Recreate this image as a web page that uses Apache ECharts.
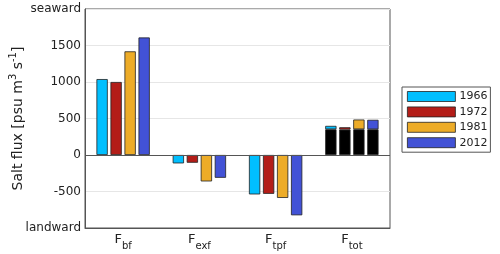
<!DOCTYPE html>
<html><head><meta charset="utf-8">
<script src="https://cdn.jsdelivr.net/npm/echarts@6/dist/echarts.min.js"></script>
<style>html,body{margin:0;padding:0;background:#fff}#c{width:500px;height:254px}</style>
</head><body><div id="c"></div>
<script>
var categories = ['bf', 'exf', 'tpf', 'tot'];
var years = ['1966', '1972', '1981', '2012'];
var colors = ['#00bfff', '#b31d18', '#edac28', '#4252d6'];
// flux values per year for Fbf, Fexf, Ftpf, Ftot
var v1966 = [1040, -115, -540, 399];
var v1972 = [1000, -106, -532, 380];
var v1981 = [1420, -362, -588, 486];
var v2012 = [1610, -312, -826, 482];
// black (base) portion of Ftot per year
var totBase = [352, 348, 352, 352];
var yTickLabels = {'-1000': 'landward', '2000': 'seaward'};

var values = [v1966, v1972, v1981, v2012];
var FONT = 'DejaVu Sans';
var series = [];
years.forEach(function (y, i) {
  var base = categories.map(function (c, j) { return j === 3 ? totBase[i] : null; });
  var top = values[i].map(function (v, j) { return j === 3 ? v - totBase[i] : v; });
  series.push({
    name: 'base' + y, type: 'bar', stack: 's' + i, data: base, barWidth: 11.3, barGap: '24%',
    itemStyle: {color: '#000', borderColor: '#222', borderWidth: 0.8}, silent: true
  });
  series.push({
    name: y, type: 'bar', stack: 's' + i, data: top, barWidth: 11.3, barGap: '24%',
    itemStyle: {color: colors[i], borderColor: '#222', borderWidth: 0.8}
  });
});
series[0].markLine = {
  silent: true, symbol: 'none', label: {show: false},
  lineStyle: {color: '#555', width: 1, type: 'solid'},
  data: [{yAxis: 0}]
};

var chart = echarts.init(document.getElementById('c'), null, {renderer: 'canvas'});
chart.setOption({
  animation: false,
  textStyle: {fontFamily: FONT},
  grid: {left: 85, right: 110, top: 9, bottom: 26, show: true, borderColor: '#555', borderWidth: 1,
         containLabel: false, outerBoundsMode: 'none'},
  legend: {
    orient: 'vertical', left: 402, top: 87, data: years,
    itemWidth: 48, itemHeight: 10, itemGap: 4.4,
    padding: [4, 3, 4, 5], borderColor: '#555', borderWidth: 1, backgroundColor: '#fff',
    textStyle: {fontFamily: FONT, fontSize: 11, color: '#222', padding: [0, 0, 0, -1]},
    itemStyle: {borderColor: '#222', borderWidth: 0.8}, icon: 'rect'
  },
  xAxis: {
    type: 'category', data: categories,
    axisLine: {onZero: false, lineStyle: {color: '#555'}},
    axisTick: {show: false},
    axisLabel: {
      margin: 5, interval: 0,
      formatter: function (v) { return '{f|F}{s|' + v + '}'; },
      rich: {
        f: {fontFamily: FONT, fontSize: 13, color: '#222', lineHeight: 18, verticalAlign: 'top'},
        s: {fontFamily: FONT, fontSize: 10, color: '#222', lineHeight: 18, verticalAlign: 'bottom'}
      }
    }
  },
  yAxis: {
    type: 'value', min: -1000, max: 2000, interval: 500,
    axisLine: {show: true, lineStyle: {color: '#555'}},
    axisTick: {show: false},
    splitLine: {show: true, lineStyle: {color: '#e6e6e6', width: 1}},
    axisLabel: {
      fontFamily: FONT, fontSize: 12, color: '#222', margin: 4,
      verticalAlignMinLabel: 'middle', verticalAlignMaxLabel: 'middle',
      formatter: function (v) { return yTickLabels[String(v)] || String(v); }
    },
    name: '{n|Salt flux [psu m}{p|3}{n| s}{p|-1}{n|]}',
    nameLocation: 'middle', nameRotate: 90, nameGap: 60, nameMoveOverlap: false,
    nameTextStyle: {
      rich: {
        n: {fontFamily: FONT, fontSize: 14, color: '#222', lineHeight: 17, verticalAlign: 'bottom'},
        p: {fontFamily: FONT, fontSize: 10, color: '#222', lineHeight: 17, verticalAlign: 'top'}
      }
    }
  },
  series: series
});
</script>
</body></html>
